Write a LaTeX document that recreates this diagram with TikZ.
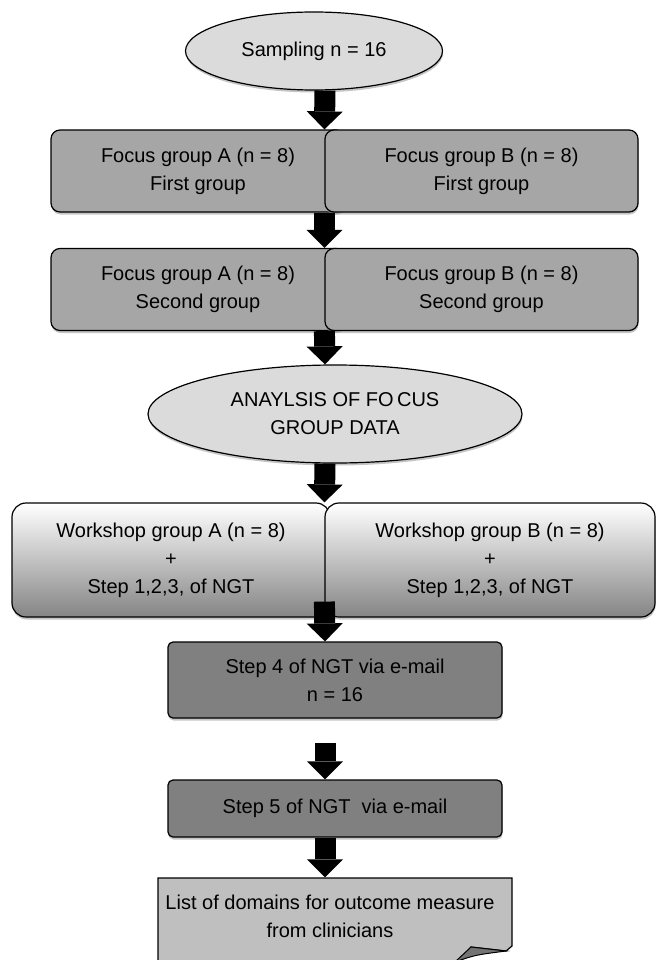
\documentclass[tikz,border=0pt]{standalone}
\usepackage{fontspec}
\setmainfont{Liberation Sans}
\usetikzlibrary{arrows.meta,shapes.geometric,shadows}
\newcommand{\fsz}  {\fontsize{20}{28}\selectfont}

\begin{document}
\begin{tikzpicture}[x=1pt,y=-1pt,line width=1.2pt,
    every node/.style={font=\fsz,align=center,inner sep=0pt},
    shdw/.style={drop shadow={shadow xshift=0.5pt,shadow yshift=-2.5pt,fill=black!45}},
    oval/.style={ellipse,draw,fill=black!14,shdw},
    grpbox/.style={rectangle,draw,rounded corners=9pt,fill=black!35,minimum height=82pt,shdw},
    wsbox/.style={rectangle,draw,rounded corners=14pt,top color=white,bottom color=black!48,minimum height=114pt,shdw},
    ngtbox/.style={rectangle,draw,rounded corners=5pt,fill=black!50,minimum width=334pt,shdw},
    bigarrow/.style={line width=21pt,-{Triangle[width=36pt,length=18pt,line width=0pt]}}]
   \useasboundingbox (0,0) rectangle (657,960);
   \coordinate (spine) at (325,0);

   \node[oval,minimum width=257pt,minimum height=78pt] (samp) at (314,51) {Sampling n = 16};

   % focus groups
   \node[grpbox,minimum width=294pt] (fa1) at (198,171)   {Focus group A (n = 8)\\First group};
   \node[grpbox,minimum width=313pt] (fb1) at (481.5,171) {Focus group B (n = 8)\\First group};
   \node[grpbox,minimum width=294pt] (fa2) at (198,289.5)   {Focus group A (n = 8)\\Second group};
   \node[grpbox,minimum width=313pt] (fb2) at (481.5,289.5) {Focus group B (n = 8)\\Second group};

   \node[oval,minimum width=374pt,minimum height=98pt] (anal) at (335,414) {ANAYLSIS OF FO\,CUS\\GROUP DATA};

   % workshops
   \node[wsbox,minimum width=318pt] (wsa) at (171,560) {Workshop group A (n = 8)\\+\\Step 1,2,3, of NGT};
   \node[wsbox,minimum width=330pt] (wsb) at (490,560) {Workshop group B (n = 8)\\+\\Step 1,2,3, of NGT};

   \node[ngtbox,minimum height=76pt] (step4) at (335,680)   {Step 4 of NGT via e-mail\\n = 16};
   \node[ngtbox,minimum height=57pt] (step5) at (335,808.5) {Step 5 of NGT\ \ via e-mail};

   % result sheet
   \filldraw[fill=black!25] (158,966) -- (158,878) -- (512,878) -- (512,946) -- (506,951)
      -- (471,947) -- (455,966) -- cycle;
   \filldraw[fill=black!55,line width=1pt] (471,947) -- (455,962) .. controls (475,955) .. (506,951) -- cycle;
   \node[minimum width=340pt,minimum height=76pt] (res) at (330,916) {List of domains for outcome measure\\from clinicians};

   \path (step4.south -| spine) ++(0,24) coordinate (a6);

   \draw[bigarrow] (samp.south -| spine) -- (fb1.north west);
   \draw[bigarrow] (fb1.south west) -- (fb2.north west);
   \draw[bigarrow] (fb2.south west) -- (anal.north -| spine);
   \draw[bigarrow] (anal.south -| spine) -- (wsb.north west);
   \draw[bigarrow] ([yshift=16pt]wsb.south west) -- (step4.north -| spine);
   \draw[bigarrow] (a6) -- (step5.north -| spine);
   \draw[bigarrow] (step5.south -| spine) -- (res.north -| spine);
  \end{tikzpicture}
\end{document}
